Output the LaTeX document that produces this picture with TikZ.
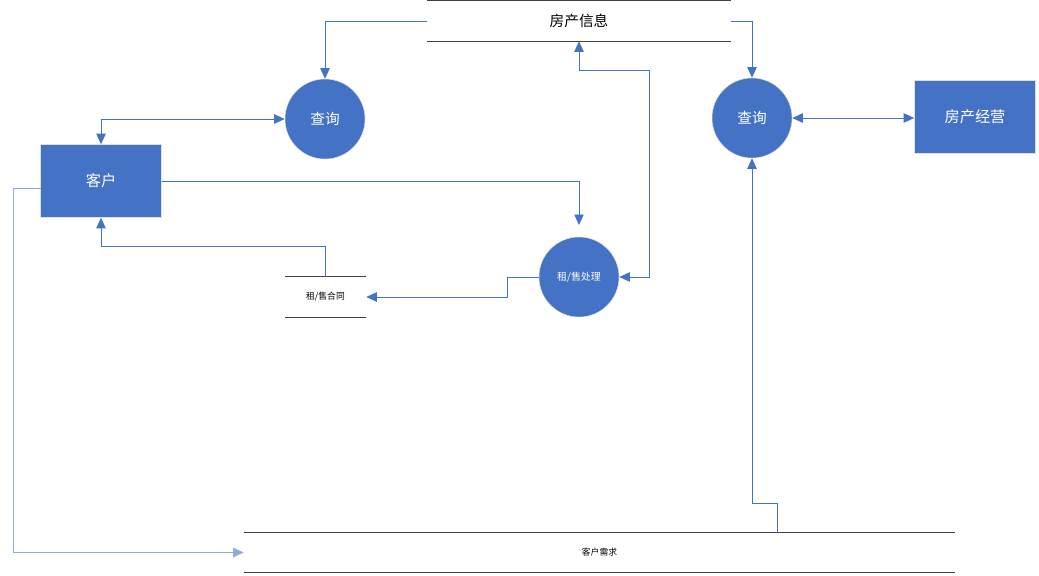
\documentclass[tikz,border=0pt]{standalone}
\usepackage{fontspec}
\newfontfamily\cjk{Noto Sans CJK SC}
\usepackage{xcolor}
\usetikzlibrary{arrows.meta,positioning}
\definecolor{dfdblue}{HTML}{4472C4}
\definecolor{dfdlight}{HTML}{8FAADC}

\tikzset{
  proc/.style={circle, fill=dfdblue, draw=gray!25, minimum size=2.4cm, inner sep=0pt,
    text=white, font=\cjk\fontsize{12.5}{14}\selectfont},
  ent/.style={rectangle, fill=dfdblue, draw=gray!25, minimum width=3.63cm,
    minimum height=2.19cm, text=white, font=\cjk\fontsize{13}{15}\selectfont},
  datastore/.style={inner sep=0pt, minimum height=1.2cm},
  storeline/.style={draw=black!75, line width=0.8pt},
  flow/.style={draw=dfdblue, line width=0.8pt},
}

\begin{document}
\begin{tikzpicture}[>={Triangle[length=9pt,width=8pt]}, x=0.03cm, y=-0.03cm]
  \useasboundingbox (0,0) rectangle (1039,575);
  % processes and entities
  \node[proc] (qleft)  at (325,119) {查询};
  \node[proc] (qright) at (752,118) {查询};
  \node[proc, font=\cjk\fontsize{8.5}{10}\selectfont] (chuli) at (579,277) {租/售处理};
  \node[ent] (kehu)     at (101,181) {客户};
  \node[ent] (jingying) at (975,117) {房产经营};
  % data stores
  \node[datastore, minimum width=9.12cm, font=\cjk\fontsize{12.5}{14}\selectfont] (info) at (579,21) {房产信息};
  \node[datastore, minimum width=2.43cm, font=\cjk\fontsize{7.5}{9}\selectfont] (hetong) at (325.5,297) {租/售合同};
  \node[datastore, minimum width=21.33cm, font=\cjk\fontsize{7.5}{9}\selectfont] (xuqiu) at (599.5,552.5) {客户需求};
  \foreach \s in {info, hetong, xuqiu}
    \draw[storeline] (\s.north west) -- (\s.north east) (\s.south west) -- (\s.south east);
  % flows
  \coordinate (t1) at (649,70);
  \coordinate (kl) at (41,188);
  \coordinate (xq) at (777,533);
  \draw[flow, ->] (info.west) -| (qleft.north);
  \draw[flow, ->] (info.east) -| (qright.north);
  \draw[flow, <->] (kehu.north) |- (qleft.west);
  \draw[flow, ->, shorten >=10pt] (kehu.east) -| (chuli.north);
  \draw[flow, <->] (chuli.east) -| (t1) -| (info.south);
  \draw[flow, ->] (chuli.west) -- ++(-31,0) |- (hetong.east);
  \draw[flow, ->] (hetong.north) -- ++(0,-30) -| (kehu.south);
  \draw[flow, draw=dfdlight, ->] (kl) -- ++(-28,0) |- (xuqiu.west);
  \draw[flow, ->] (xq) -- ++(0,-30) -| (qright.south);
  \draw[flow, <->] (qright.east) -- (qright.east -| jingying.west);
\end{tikzpicture}
\end{document}
